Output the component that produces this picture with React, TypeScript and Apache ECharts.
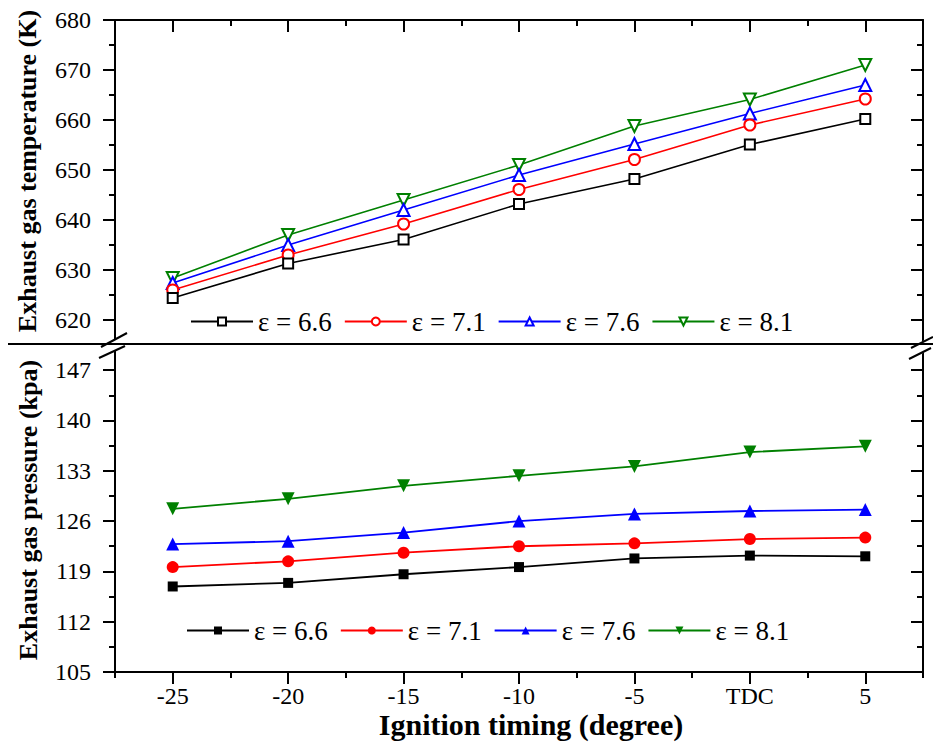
import React, { useEffect, useRef } from 'react';
import * as echarts from 'echarts';

const categories = ['-25', '-20', '-15', '-10', '-5', 'TDC', '5'];
const seriesNames = ['ε = 6.6', 'ε = 7.1', 'ε = 7.6', 'ε = 8.1'];
const tempE66 = [624.4, 631.3, 636.1, 643.2, 648.2, 655.1, 660.2];
const tempE71 = [626.0, 633.0, 639.2, 646.1, 652.1, 659.0, 664.2];
const tempE76 = [627.4, 635.0, 642.0, 649.0, 655.2, 661.3, 667.0];
const tempE81 = [628.4, 637.0, 644.0, 651.0, 658.8, 664.1, 671.0];
const presE66 = [116.9, 117.4, 118.6, 119.6, 120.8, 121.2, 121.1];
const presE71 = [119.6, 120.4, 121.6, 122.5, 122.9, 123.5, 123.7];
const presE76 = [122.8, 123.2, 124.4, 126.0, 127.0, 127.4, 127.6];
const presE81 = [127.7, 129.1, 130.9, 132.3, 133.6, 135.6, 136.4];
const tempTicks = [620, 630, 640, 650, 660, 670, 680];
const presTicks = [105, 112, 119, 126, 133, 140, 147];

const colors = ['#000000', '#ff0000', '#0000ff', '#008000'];
const FONT = 'Liberation Serif';

export default function App() {
  const ref = useRef<HTMLDivElement>(null);
  useEffect(() => {
    document.body.style.margin = '0';
    const chart = echarts.init(ref.current!, null, { renderer: 'svg' });
    const axisColor = '#000';
    const lineS = { color: axisColor, width: 2 };

    const xMajor = (grid: number, pos: string, inside: boolean, showLabel: boolean) => ({
      type: 'category', gridIndex: grid, position: pos, data: categories, boundaryGap: true,
      axisLine: { show: true, lineStyle: lineS },
      axisTick: { show: true, inside, length: 12, alignWithLabel: true, interval: 0, lineStyle: lineS },
      axisLabel: { show: showLabel, interval: 0, margin: 12, fontSize: 24, fontFamily: 'serif', color: '#000' },
      splitLine: { show: false },
    });
    const xMinor = (grid: number, pos: string, inside: boolean) => ({
      type: 'category', gridIndex: grid, position: pos, data: categories, boundaryGap: true,
      axisLine: { show: false },
      axisTick: { show: true, inside, length: 6, interval: 0, lineStyle: lineS },
      axisLabel: { show: false },
      splitLine: { show: false },
    });
    const yMajor = (grid: number, pos: string, min: number, max: number, ticks: number[], inside: boolean, showLabel: boolean) => ({
      type: 'value', gridIndex: grid, position: pos, min, max,
      axisLine: { show: true, lineStyle: lineS },
      axisTick: { show: true, inside, length: 12, customValues: ticks, lineStyle: lineS },
      axisLabel: { show: showLabel, customValues: ticks, margin: 24, textStyle: { fontSize: 24, fontFamily: FONT, color: '#000' }, fontSize: 24, fontFamily: FONT, color: '#000' },
      splitLine: { show: false },
    });
    const yMinor = (grid: number, pos: string, min: number, max: number, interval: number, inside: boolean) => ({
      type: 'value', gridIndex: grid, position: pos, min, max, interval,
      axisLine: { show: false },
      axisTick: { show: true, inside, length: 6, lineStyle: lineS },
      axisLabel: { show: false },
      splitLine: { show: false },
    });

    const tempData = [tempE66, tempE71, tempE76, tempE81];
    const presData = [presE66, presE71, presE76, presE81];
    const emptySymbols = ['emptyRect', 'emptyCircle', 'emptyTriangle', 'emptyTriangle'];
    const fullSymbols = ['rect', 'circle', 'triangle', 'triangle'];
    const emptySizes = [10, 11, 12, 12];
    const fullSizes = [10, 12, 13, 13];

    const series: any[] = [];
    seriesNames.forEach((n, i) => {
      series.push({
        type: 'line', name: n, xAxisIndex: 0, yAxisIndex: 0, data: tempData[i],
        symbol: emptySymbols[i], symbolSize: emptySizes[i], symbolRotate: i === 3 ? 180 : 0,
        itemStyle: { color: colors[i], borderWidth: 1.2 },
        lineStyle: { color: colors[i], width: 1.6 },
        z: 10 - i,
      });
    });
    seriesNames.forEach((n, i) => {
      series.push({
        type: 'line', name: 'p:' + n, xAxisIndex: 2, yAxisIndex: 4, data: presData[i],
        symbol: fullSymbols[i], symbolSize: fullSizes[i], symbolRotate: i === 3 ? 180 : 0,
        itemStyle: { color: colors[i] },
        lineStyle: { color: colors[i], width: 1.8 },
      });
    });

    const legendCommon = {
      orient: 'horizontal', itemWidth: 62, itemHeight: 10, itemGap: 12,
      textStyle: { fontSize: 27, fontFamily: 'Times New Roman', color: '#000' },
      padding: 0,
    };

    const option: any = {
      animation: false,
      backgroundColor: '#fff',
      textStyle: { fontFamily: FONT },
      grid: [
        { left: 115, top: 20, width: 808, height: 325 },
        { left: 115, top: 345, width: 808, height: 327 },
      ],
      xAxis: [
        xMajor(0, 'top', true, false),
        xMinor(0, 'top', true),
        xMajor(1, 'bottom', false, true),
        xMinor(1, 'bottom', false),
      ],
      yAxis: [
        yMajor(0, 'left', 615, 680, tempTicks, false, true),
        yMinor(0, 'left', 615, 680, 5, false),
        yMajor(0, 'right', 615, 680, tempTicks, true, false),
        yMinor(0, 'right', 615, 680, 5, true),
        yMajor(1, 'left', 105, 150.5, presTicks, false, true),
        yMinor(1, 'left', 105, 150.5, 3.5, false),
        yMajor(1, 'right', 105, 150.5, presTicks, true, false),
        yMinor(1, 'right', 105, 150.5, 3.5, true),
      ],
      legend: [
        { ...legendCommon, left: 190, top: 308, data: seriesNames },
        {
          ...legendCommon, left: 186, top: 617,
          data: seriesNames.map((n) => 'p:' + n),
          formatter: (name: string) => name.replace(/^p:/, ''),
        },
      ],
      graphic: [
        {
          type: 'text', x: 27, y: 171, rotation: Math.PI / 2, z: 100,
          style: { text: 'Exhaust gas temperature (K)', fontFamily: FONT, fontWeight: 'bold', fontSize: 26, fill: '#000', align: 'center', verticalAlign: 'middle' },
        },
        {
          type: 'text', x: 28, y: 510, rotation: Math.PI / 2, z: 100,
          style: { text: 'Exhaust gas pressure (kpa)', fontFamily: FONT, fontWeight: 'bold', fontSize: 26, fill: '#000', align: 'center', verticalAlign: 'middle' },
        },
        {
          type: 'text', x: 531, y: 724, z: 100,
          style: { text: 'Ignition timing (degree)', fontFamily: FONT, fontWeight: 'bold', fontSize: 30, fill: '#000', align: 'center', verticalAlign: 'middle' },
        },
        { type: 'polygon', z: 100, shape: { points: [[108, 343], [119, 337], [119, 349], [108, 355]] }, style: { fill: '#fff' } },
        { type: 'polygon', z: 100, shape: { points: [[917, 344], [929, 338], [929, 350], [917, 356]] }, style: { fill: '#fff' } },
        { type: 'line', z: 101, shape: { x1: 8, y1: 344, x2: 933, y2: 344 }, style: { stroke: '#000', lineWidth: 2 } },
        { type: 'line', z: 102, shape: { x1: 101, y1: 347, x2: 127, y2: 333 }, style: { stroke: '#000', lineWidth: 2 } },
        { type: 'line', z: 102, shape: { x1: 99, y1: 358, x2: 125, y2: 346 }, style: { stroke: '#000', lineWidth: 2 } },
        { type: 'line', z: 102, shape: { x1: 911, y1: 348, x2: 933, y2: 337 }, style: { stroke: '#000', lineWidth: 2 } },
        { type: 'line', z: 102, shape: { x1: 909, y1: 359, x2: 931, y2: 348 }, style: { stroke: '#000', lineWidth: 2 } },
      ],
      series,
    };
    chart.setOption(option);
    return () => chart.dispose();
  }, []);
  return <div ref={ref} style={{ width: 933, height: 754 }} />;
}
